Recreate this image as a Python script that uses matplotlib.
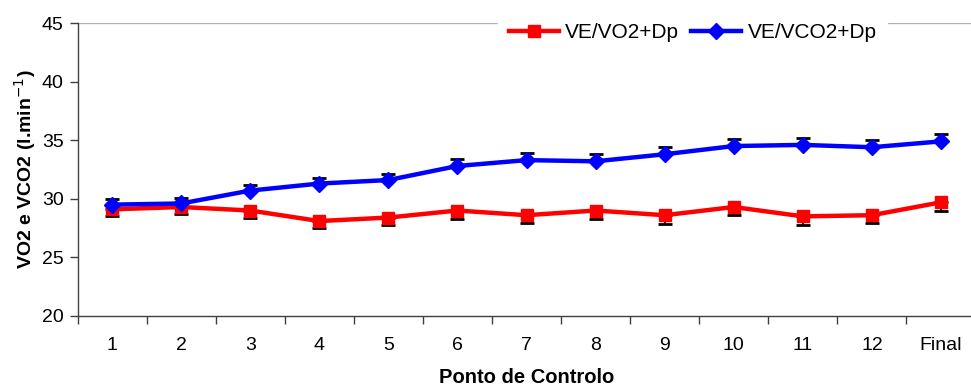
import matplotlib
matplotlib.use("Agg")
import matplotlib.pyplot as plt
import numpy as np

plt.rcParams['font.family'] = ['Liberation Sans', 'DejaVu Sans']

pontos = ['1', '2', '3', '4', '5', '6', '7', '8', '9', '10', '11', '12', 'Final']

ve_vo2 = [29.1, 29.3, 29.0, 28.1, 28.4, 29.0, 28.6, 29.0, 28.6, 29.3, 28.5, 28.6, 29.7]
ve_vo2_dp = [0.6, 0.6, 0.6, 0.6, 0.6, 0.7, 0.7, 0.7, 0.75, 0.7, 0.7, 0.7, 0.7]

ve_vco2 = [29.5, 29.6, 30.7, 31.3, 31.6, 32.8, 33.3, 33.2, 33.8, 34.5, 34.6, 34.4, 34.9]
ve_vco2_dp = [0.5, 0.5, 0.5, 0.5, 0.5, 0.6, 0.6, 0.6, 0.6, 0.6, 0.6, 0.6, 0.6]

x = np.arange(len(pontos))

fig = plt.figure(figsize=(9.71, 3.92), dpi=100)
ax = fig.add_axes([77.5/971, 1 - 316/392, 898/971, 293/392])

# error bars (one-sided, like the excel chart)
ax.errorbar(x, ve_vo2, yerr=[ve_vo2_dp, np.zeros(len(x))], fmt='none',
            ecolor='black', elinewidth=1.5, capsize=5, capthick=2, zorder=2)
ax.errorbar(x, ve_vco2, yerr=[np.zeros(len(x)), ve_vco2_dp], fmt='none',
            ecolor='black', elinewidth=1.5, capsize=5, capthick=2, zorder=2)

ax.plot(x, ve_vo2, color='#ff0000', lw=3.2, marker='s', ms=9, label='VE/VO2+Dp', zorder=3)
ax.plot(x, ve_vco2, color='#0000ff', lw=3.2, marker='D', ms=8.5, label='VE/VCO2+Dp', zorder=3)

ax.set_xlim(-0.5, len(x) - 0.5)
ax.set_ylim(20, 45)
ax.set_yticks([20, 25, 30, 35, 40, 45])
ax.axhline(45, color='#b0b0b0', lw=1, zorder=1)

ax.set_xticks(x)
ax.set_xticklabels(pontos)
ax.set_xticks(np.arange(len(x)) - 0.5, minor=True)
ax.tick_params(axis='x', which='major', length=0, pad=15, labelsize=14)
ax.tick_params(axis='x', which='minor', length=6, width=1, color='#404040')
ax.tick_params(axis='y', length=6, width=1, color='#404040', labelsize=14, pad=4)

for s in ['top', 'right']:
    ax.spines[s].set_visible(False)
for s in ['left', 'bottom']:
    ax.spines[s].set_color('#404040')
    ax.spines[s].set_linewidth(1)

ax.set_ylabel('VO2 e VCO2 (l.min$^{-1}$)', fontsize=14, fontweight='bold', labelpad=3)
ax.set_xlabel('Ponto de Controlo', fontsize=14.5, fontweight='bold', labelpad=10)

leg = ax.legend(loc='upper center', bbox_to_anchor=(0.685, 1.07), ncol=2, frameon=True,
                fontsize=15, handlelength=2.4, columnspacing=0.6, handletextpad=0.3,
                borderpad=0.5, fancybox=False)
leg.get_frame().set_edgecolor('white')
leg.get_frame().set_facecolor('white')
leg.get_frame().set_alpha(1)

fig.savefig('out.png', dpi=100)
